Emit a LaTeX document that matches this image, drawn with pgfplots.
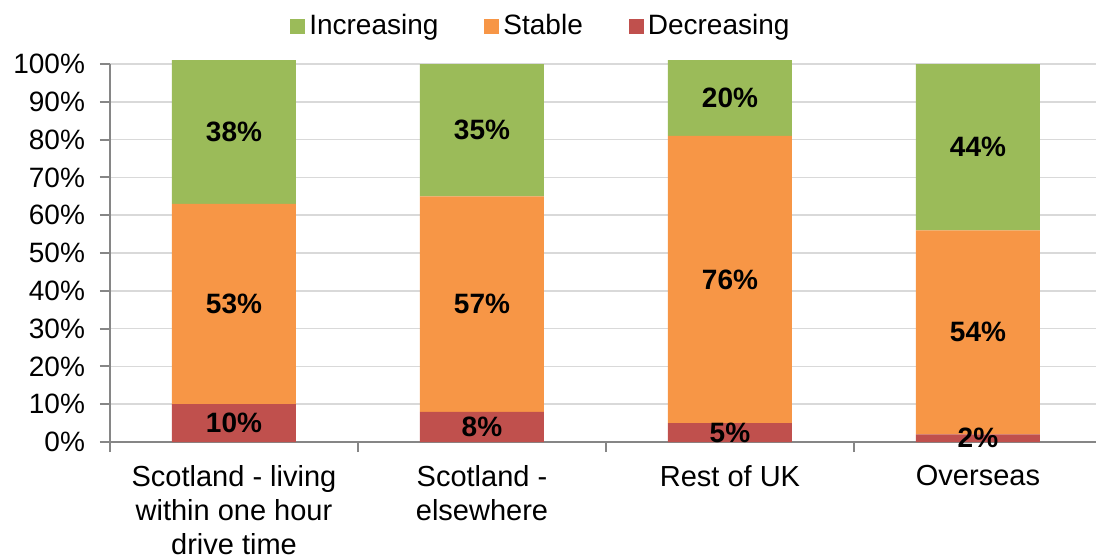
\documentclass[border=0pt]{standalone}
\usepackage{pgfplots}
\pgfplotsset{compat=1.18}
\usepackage{fontspec}
\setmainfont{Liberation Sans}
\definecolor{incr}{HTML}{9BBB59}
\definecolor{stab}{HTML}{F79646}
\definecolor{decr}{HTML}{C0504D}
\definecolor{axisgray}{HTML}{868686}
\definecolor{gridgray}{HTML}{D9D9D9}

\begin{document}
\begin{tikzpicture}[font=\fontsize{14}{17}\selectfont]
\useasboundingbox (-55pt,-58.5pt) rectangle (493pt,221pt);
\begin{axis}[
  scale only axis, width=493pt, height=189pt,
  ybar stacked, bar width=62pt,
  xmin=-0.5, xmax=3.476, ymin=0, ymax=100,
  clip=false,
  xtick={0,1,2,3},
  xticklabels={Scotland - living\\within one hour\\drive time, Scotland -\\elsewhere, Rest of UK, Overseas},
  xticklabel style={align=center, yshift=-3pt, font=\fontsize{14.5}{17}\selectfont},
  major x tick style={draw=none},
  minor xtick={-0.5,0.5,1.5,2.5},
  ytick={0,10,...,100},
  yticklabels={0\%,10\%,20\%,30\%,40\%,50\%,60\%,70\%,80\%,90\%,100\%},
  yticklabel style={xshift=-4pt},
  ymajorgrids, grid style={gridgray, line width=0.8pt},
  axis x line*=bottom, axis y line*=left,
  axis line style={axisgray, line width=1pt, -},
  tick style={axisgray, line width=1pt},
  tick align=outside, major tick length=5pt, minor tick length=5pt,
  visualization depends on=rawy \as \rawy,
  nodes near coords={\pgfmathprintnumber[assume math mode=true]{\rawy}\%},
  every node near coord/.append style={font=\fontsize{14}{17}\selectfont\bfseries, anchor=center},
  legend style={at={(axis description cs:0.438,1)}, anchor=center, yshift=19pt,
    legend columns=3, draw=none, fill=none, font=\fontsize{14}{17}\selectfont,
    /tikz/every even column/.append style={column sep=21pt}},
  reverse legend,
  legend image code/.code={\fill[#1] (-1pt,-3.75pt) rectangle (6.5pt,3.75pt);},
]
\addplot[fill=decr, draw=none] coordinates {(0,10) (1,8) (2,5) (3,2)};
\addplot[fill=stab, draw=none] coordinates {(0,53) (1,57) (2,76) (3,54)};
\addplot[fill=incr, draw=none] coordinates {(0,38) (1,35) (2,20) (3,44)};
\legend{Decreasing, Stable, Increasing}
\end{axis}
\end{tikzpicture}
\end{document}
